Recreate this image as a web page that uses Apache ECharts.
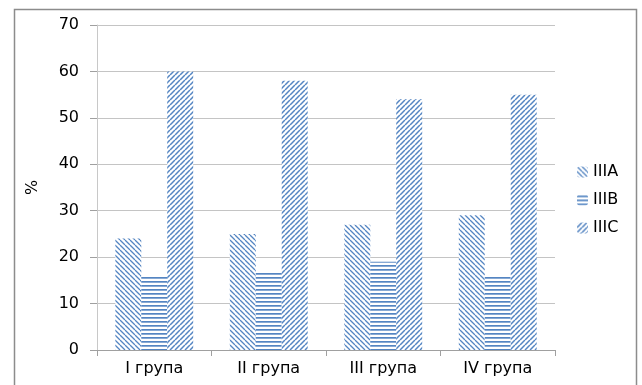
<!DOCTYPE html>
<html><head><meta charset="utf-8">
<script src="https://cdn.jsdelivr.net/npm/echarts@6/dist/echarts.min.js"></script>
<style>html,body{margin:0;padding:0;background:#fff}#c{width:642px;height:385px}</style>
</head><body><div id="c"></div>
<script>
const categories = ['I група', 'II група', 'III група', 'IV група'];
const seriesNames = ['IIIA', 'IIIB', 'IIIC'];
const valuesA = [24, 25, 27, 29];
const valuesB = [16, 17, 19, 16];
const valuesC = [60, 58, 54, 55];
const yTicks = [0, 10, 20, 30, 40, 50, 60, 70];

const BLUE = '#5485c2';
const FONT = 'DejaVu Sans';
function makePattern(kind) {
  const s = kind === 'h' ? 4 : 5;
  const c = document.createElement('canvas');
  c.width = s; c.height = s;
  const g = c.getContext('2d');
  g.fillStyle = '#fff'; g.fillRect(0, 0, s, s);
  g.strokeStyle = BLUE;
  if (kind === 'h') {
    g.fillStyle = BLUE; g.fillRect(0, 1, s, 1.7);
  } else {
    g.lineWidth = kind === 'b' ? 1.3 : 1.5;
    g.beginPath();
    for (let o = -s; o <= s; o += s) {
      if (kind === 'b') { g.moveTo(o, 0); g.lineTo(o + s, s); }
      else { g.moveTo(o, s); g.lineTo(o + s, 0); }
    }
    g.stroke();
  }
  return { image: c, repeat: 'repeat' };
}
const pats = [makePattern('b'), makePattern('h'), makePattern('f')];
const data = [valuesA, valuesB, valuesC];

const chart = echarts.init(document.getElementById('c'));
chart.setOption({
  animation: false,
  backgroundColor: '#fff',
  graphic: [{ type: 'rect', shape: { x: 14.5, y: 9.5, width: 622, height: 390 }, style: { fill: 'none', stroke: '#8c8c8c', lineWidth: 1.5 }, silent: true }],
  grid: { left: 97, right: 87, top: 25, bottom: 35 },
  legend: {
    orient: 'vertical', left: 572, top: 159, itemWidth: 11, itemHeight: 11, itemGap: 12,
    textStyle: { fontFamily: FONT, fontSize: 16, color: '#000' },
    data: seriesNames
  },
  xAxis: {
    type: 'category', data: categories,
    axisLine: { lineStyle: { color: '#a0a0a0' } },
    axisTick: { show: true, length: 6, alignWithLabel: false, lineStyle: { color: '#a0a0a0' } },
    axisLabel: { fontFamily: FONT, fontSize: 16, color: '#000', margin: 11 }
  },
  yAxis: {
    type: 'value', min: yTicks[0], max: yTicks[yTicks.length - 1], interval: 10,
    name: '%', nameLocation: 'middle', nameGap: 56, nameRotate: 90,
    nameTextStyle: { fontFamily: FONT, fontSize: 16, color: '#000' },
    axisLine: { show: true, lineStyle: { color: '#c8c8c8' } },
    axisTick: { show: true, length: 7, lineStyle: { color: '#a0a0a0' } },
    axisLabel: { fontFamily: FONT, fontSize: 16, color: '#000', margin: 18 },
    splitLine: { lineStyle: { color: '#c4c4c4', width: 1 } }
  },
  series: seriesNames.map((n, i) => ({
    name: n, type: 'bar', data: data[i],
    barGap: '0%', barCategoryGap: '32%',
    itemStyle: { color: pats[i] }
  }))
});
</script></body></html>
